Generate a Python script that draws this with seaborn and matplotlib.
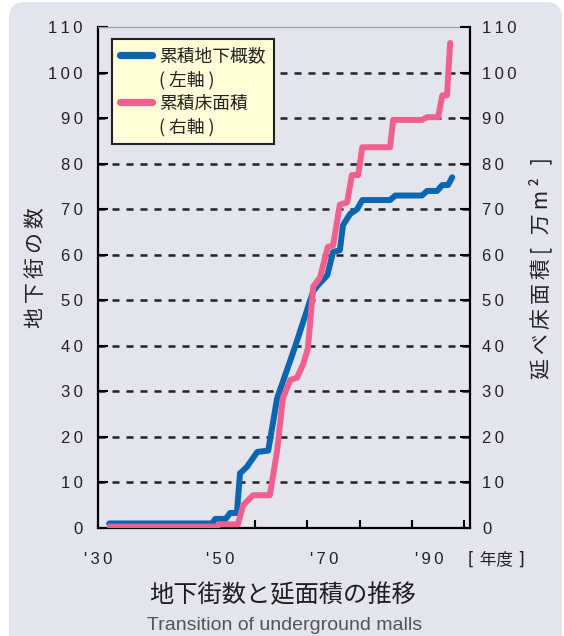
import numpy as np
import matplotlib
matplotlib.use('Agg')
import matplotlib.pyplot as plt
import matplotlib.patches as mpatches
from matplotlib.lines import Line2D
from matplotlib.transforms import ScaledTranslation
import seaborn as sns

# 累積地下街数 (左軸)
count_years = [1931.7, 1947.4, 1947.9, 1949.5, 1950.2, 1951.5, 1952.1, 1953.4, 1955.4,
               1957.5, 1959.2, 1962.6, 1966.1, 1967.0, 1968.8, 1969.9, 1971.2, 1971.8,
               1973.2, 1974.5, 1975.5, 1980.8, 1981.8, 1986.9, 1987.9, 1989.8, 1990.8,
               1991.9, 1992.7]
count_vals = [1, 1, 2, 2, 3.3, 3.3, 12, 13.4, 16.7,
              17, 28.5, 39.7, 52, 53.3, 55.5, 60.6, 61, 66.5,
              69, 70, 72, 72, 73, 73, 74, 74, 75.3,
              75.3, 77]

# 累積床面積 (右軸, 万m2)
area_years = [1931.8, 1948.2, 1948.4, 1951.7, 1952.7, 1954.6, 1957.8, 1959.2, 1960.3,
              1961.7, 1963.0, 1964.2, 1965.1, 1966.1, 1967.4, 1968.9, 1969.9, 1971.2,
              1972.6, 1973.5, 1974.7, 1975.5, 1980.8, 1981.4, 1986.9, 1987.9, 1990.0,
              1990.8, 1991.7, 1992.3]
area_vals = [0.3, 0.3, 0.8, 0.8, 5, 7.2, 7.2, 17, 28.5,
             32.5, 33, 36, 39.5, 53, 55, 61.7, 62, 71,
             71.5, 77.5, 77.5, 83.6, 83.6, 89.6, 89.6, 90.2, 90.2,
             95, 95, 106.5]

x_label_years = [1930, 1950, 1970, 1990]
x_labels = ["'30", "'50", "'70", "'90"]
x_minor = [1955, 1965, 1975, 1985, 1995]
y_ticks = list(range(0, 111, 10))

legend_labels = ['累積地下概数', '( 左軸 )', '累積床面積', '( 右軸 )']

BLUE = '#0a66b0'
PINK = '#f0608e'
BG = '#e3e4ec'
INK = '#222222'

sns.set_style('ticks')
plt.rcParams['font.family'] = ['Liberation Sans', 'Noto Sans CJK JP', 'DejaVu Sans']
CJK = ['Noto Sans CJK JP', 'DejaVu Sans']


def spaced(s):
    return '\u2009'.join(s)


# the chart stretches the years before 1950
K = 1.2536


def fwd(x):
    x = np.asarray(x, dtype=float)
    return np.where(x < 1950, 1950 + (x - 1950) * K, x)


def inv(y):
    y = np.asarray(y, dtype=float)
    return np.where(y < 1950, 1950 + (y - 1950) / K, y)


fig = plt.figure(figsize=(5.64, 6.36), dpi=100, facecolor='white')
panel = mpatches.FancyBboxPatch((0.09, -0.3), 5.53, 6.64,
                                boxstyle='round,pad=0,rounding_size=0.16',
                                transform=fig.dpi_scale_trans,
                                facecolor=BG, edgecolor='none', zorder=-10)
fig.patches.append(panel)

ax = fig.add_axes([98 / 564, 1 - 528 / 636, 372 / 564, 501 / 636])
ax.set_facecolor('none')
ax.set_xscale('function', functions=(fwd, inv))

sns.lineplot(x=count_years, y=count_vals, ax=ax, color=BLUE, lw=4.3,
             estimator=None, sort=False)
ax2 = ax.twinx()
sns.lineplot(x=area_years, y=area_vals, ax=ax2, color=PINK, lw=4.3,
             estimator=None, sort=False)

ax.set_xlim(1930, 1996.1)
for a in (ax, ax2):
    a.set_ylim(0, 110)
    a.set_yticks(y_ticks)
    a.set_yticklabels([spaced(str(v)) for v in y_ticks])
    a.set_xlabel('')

ax.set_xticks(x_label_years)
ax.set_xticklabels([spaced(s) for s in x_labels])
ax.set_xticks(x_minor, minor=True)
ax.tick_params(axis='x', which='major', length=0, pad=17, labelsize=12, labelcolor=INK)
ax.tick_params(axis='x', which='minor', direction='in', length=6, width=1.5, color='black')
ax.tick_params(axis='y', direction='in', length=7, width=1.5, pad=11,
               labelsize=12, labelcolor=INK, color='black')
ax2.tick_params(axis='y', direction='in', length=7, width=1.5, pad=9,
                labelsize=12, labelcolor=INK, color='black')

# the printed year labels sit a little left of their positions
shift = ScaledTranslation(-9 / 100, 0, fig.dpi_scale_trans)
for lab in ax.get_xticklabels()[1:]:
    lab.set_transform(lab.get_transform() + shift)

ax.grid(axis='y', color=INK, lw=1.8, linestyle=(0, (2.8, 2.8)))
gl = ax.get_ygridlines()
gl[0].set_visible(False)
gl[-1].set_visible(False)

for name, sp in ax.spines.items():
    sp.set_visible(name in ('left', 'bottom', 'top'))
    sp.set_color('black')
    sp.set_linewidth(1.6)
ax.spines['top'].set_color('#9a9a9a')
ax.spines['top'].set_linewidth(0.8)
for name, sp in ax2.spines.items():
    sp.set_visible(name == 'right')
    sp.set_color('black')
    sp.set_linewidth(1.6)

ax.set_ylabel(spaced('地下街の数'), family=CJK, fontsize=15, color=INK)
ax.yaxis.set_label_coords(-0.137, 0.519)
ax2.set_ylabel(spaced('延べ床面積[ 万m² ]'), family=CJK, fontsize=15, color=INK,
               rotation=90)
ax2.yaxis.set_label_coords(1.159, 0.519)

handles = [Line2D([], [], color=BLUE, lw=5.2), Line2D([], [], color='none'),
           Line2D([], [], color=PINK, lw=5.2), Line2D([], [], color='none')]
leg = ax2.legend(handles, legend_labels, loc='upper left',
                 bbox_to_anchor=(0.0376, 0.976), borderaxespad=0,
                 frameon=True, fancybox=False, facecolor='#fffcd8',
                 edgecolor=INK, framealpha=1,
                 prop={'family': CJK, 'size': 12.8},
                 handlelength=1.8, handletextpad=0.4, labelspacing=0.3,
                 borderpad=0.45, labelcolor=INK)
leg.get_frame().set_linewidth(1.5)

fig.text(468 / 564, 1 - 560 / 636, '[ 年度 ]', ha='left', va='center',
         fontsize=12, family=['DejaVu Sans', 'Noto Sans CJK JP'], color=INK)
fig.text(283 / 564, 1 - 595 / 636, '地下街数と延面積の推移', ha='center', va='center',
         fontsize=17.5, family=CJK, color='#1e1e1e')
fig.text(285 / 564, 1 - 626 / 636, 'Transition of underground malls', ha='center',
         va='center', fontsize=14, family=['Liberation Sans', 'DejaVu Sans'], color='#555555')

fig.savefig('out.png', dpi=100, facecolor='white')
